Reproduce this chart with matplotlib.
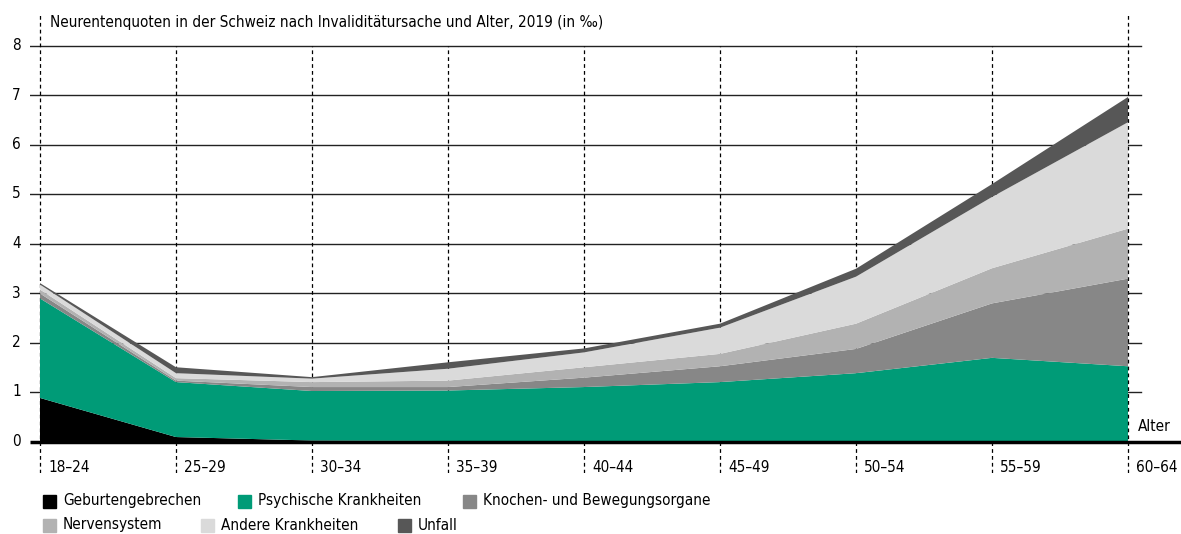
import numpy as np
import matplotlib
matplotlib.use("Agg")
import matplotlib.pyplot as plt
from matplotlib.patches import Rectangle

# Neurentenquoten in Promille, gestapelt
alter = ["18–24", "25–29", "30–34", "35–39", "40–44", "45–49", "50–54", "55–59", "60–64"]
geburt = [0.88, 0.09, 0.02, 0.01, 0.0, 0.0, 0.0, 0.0, 0.0]
psych = [2.01, 1.11, 1.00, 1.02, 1.10, 1.20, 1.38, 1.69, 1.52]
knochen = [0.10, 0.03, 0.08, 0.07, 0.19, 0.32, 0.49, 1.10, 1.77]
nerven = [0.08, 0.05, 0.10, 0.13, 0.21, 0.25, 0.51, 0.71, 1.01]
andere = [0.10, 0.10, 0.07, 0.24, 0.30, 0.53, 0.95, 1.44, 2.15]
unfall = [0.03, 0.12, 0.03, 0.13, 0.08, 0.08, 0.16, 0.26, 0.51]

namen = ["Geburtengebrechen", "Psychische Krankheiten", "Knochen- und Bewegungsorgane",
         "Nervensystem", "Andere Krankheiten", "Unfall"]
farben = ["#000000", "#009b77", "#878787", "#b2b2b2", "#dadada", "#575757"]

plt.rcParams['font.family'] = ['DejaVu Sans']
plt.rcParams['font.stretch'] = 'condensed'
fs = 11

W, H = 1181, 534
fig = plt.figure(figsize=(W / 100, H / 100), dpi=100)

# axes in pixel coordinates
x0_px, x1_px = 30, 1181
y_top, y_bot = 14, 473
ax = fig.add_axes([x0_px / W, 1 - y_bot / H, (x1_px - x0_px) / W, (y_bot - y_top) / H])

px_x = 136.0   # pixels per category
px_y = 49.5    # pixels per unit
zero_x, zero_y = 40, 441.5
ax.set_xlim((x0_px - zero_x) / px_x, (x1_px - zero_x) / px_x)
ymin, ymax = (zero_y - y_bot) / px_y, (zero_y - y_top) / px_y
ax.set_ylim(ymin, ymax)
ax.axis("off")

x = np.arange(len(alter))
ax.stackplot(x, geburt, psych, knochen, nerven, andere, unfall, colors=farben,
             linewidth=0, zorder=2)

# horizontal grid
grid_r = (1141 - zero_x) / px_x
for v in range(1, 9):
    ax.plot([ax.get_xlim()[0], grid_r], [v, v], color="#222222", lw=1.0, zorder=1)
ax.plot(ax.get_xlim(), [0, 0], color="black", lw=2.5, zorder=4, solid_capstyle="butt")

# vertical dashed lines (behind the areas, outer ones reach the title row)
for xi in x:
    top = ymax if xi in (0, len(x) - 1) else 8
    z = 3 if xi == len(x) - 1 else 1
    ax.plot([xi, xi], [ymin, top], color="black", lw=0.9, ls=(0, (3, 2.5)), zorder=z)
    ax.text(xi + 0.06, -0.52, alter[xi], fontsize=fs, va="center", ha="left")

for v in range(0, 9):
    fig.text(12 / W, 1 - (zero_y - v * px_y) / H, str(v), fontsize=fs,
             ha="left", va="center")

ax.text(8.07, 0.3, "Alter", fontsize=fs, va="center", ha="left")
fig.text(50 / W, 1 - 22 / H,
         "Neurentenquoten in der Schweiz nach Invaliditätursache und Alter, 2019 (in ‰)",
         fontsize=fs, va="center", ha="left")

# legend
pos = [(43, 501), (238, 501), (463, 501), (43, 525), (201, 525), (398, 525)]
for (lx, ly), name, col in zip(pos, namen, farben):
    fig.patches.append(Rectangle((lx / W, 1 - (ly + 6.5) / H), 13 / W, 13 / H,
                                 transform=fig.transFigure, color=col))
    fig.text((lx + 20) / W, 1 - ly / H, name, fontsize=fs, va="center", ha="left")

fig.savefig("out.png", dpi=100)
